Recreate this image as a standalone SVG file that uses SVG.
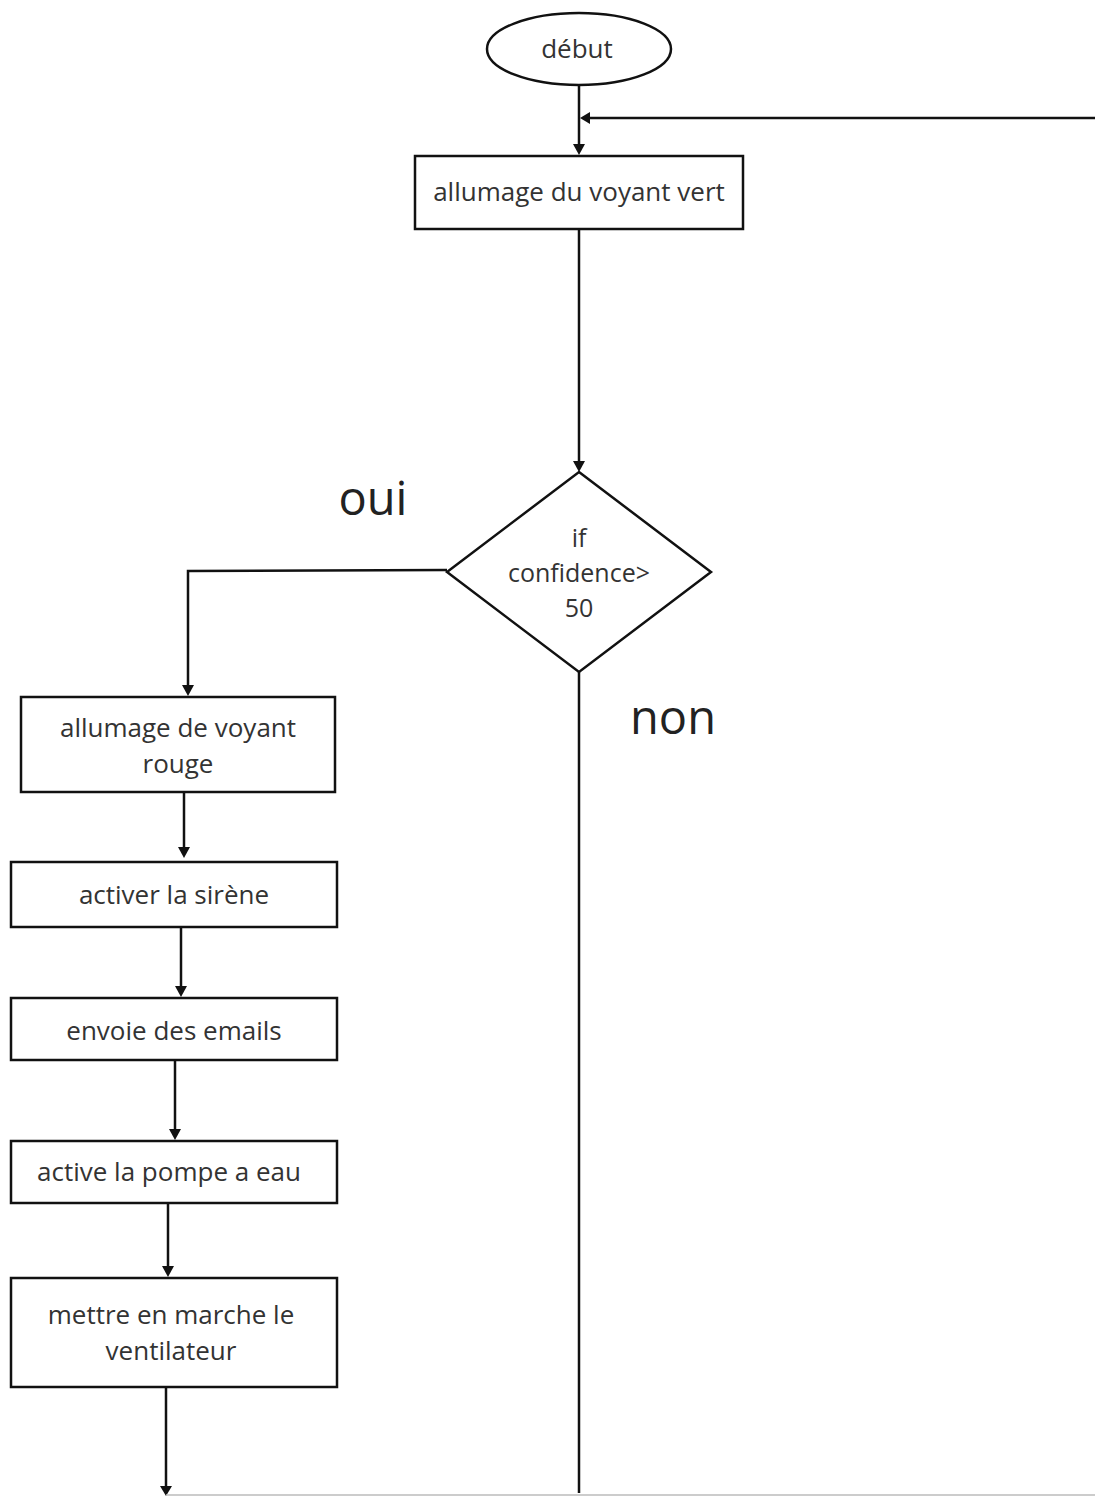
<svg xmlns="http://www.w3.org/2000/svg" width="1095" height="1496" viewBox="0 0 1095 1496">
<defs>
<style>
.shape{fill:#fff;stroke:#111;stroke-width:2.5}
.t{font-family:"Open Sans","Liberation Sans",sans-serif;font-size:26px;fill:#333;text-anchor:middle;dominant-baseline:central}
.d{font-size:25px}
.big{font-family:"Open Sans","Liberation Sans",sans-serif;font-size:47px;fill:#222;text-anchor:middle;dominant-baseline:central}
.c{fill:none;stroke:#111;stroke-width:2.5}
.h{fill:#111}
</style>
</defs>
<rect width="1095" height="1496" fill="#fff"/>
<g id="connectors">
<path class="c" d="M579,86 V144"/>
<path class="h" d="M573,144 L585,144 L579,155 z"/>
<path class="c" d="M1095,118 H590"/>
<path class="h" d="M590,112 L590,124 L580,118 z"/>
<path class="c" d="M579,229 V461"/>
<path class="h" d="M573,461 L585,461 L579,472 z"/>
<path class="c" d="M447,570 L188,571 V685"/>
<path class="h" d="M182,685 L194,685 L188,696 z"/>
<path class="c" d="M184,792 V847"/>
<path class="h" d="M178,847 L190,847 L184,858 z"/>
<path class="c" d="M181,927 V986"/>
<path class="h" d="M175,986 L187,986 L181,997 z"/>
<path class="c" d="M175,1060 V1129"/>
<path class="h" d="M169,1129 L181,1129 L175,1140 z"/>
<path class="c" d="M168,1203 V1266"/>
<path class="h" d="M162,1266 L174,1266 L168,1277 z"/>
<path class="c" d="M166,1387 V1486"/>
<path class="h" d="M160,1486 L172,1486 L166,1496 z"/>
<path class="c" d="M579,672 V1493"/>
<path d="M166,1495 H1095" fill="none" stroke="#bbb" stroke-width="1.5"/>
</g>
<g id="n-debut">
<ellipse class="shape" cx="579" cy="49" rx="92" ry="36"/>
<text class="t" x="577" y="48">début</text>
</g>
<g id="n-vert">
<rect class="shape" x="415" y="156" width="328" height="73"/>
<text class="t" x="579" y="191">allumage du voyant vert</text>
</g>
<g id="n-if">
<polygon class="shape" points="579,472 711,572 579,672 447,572"/>
<text class="t d" x="579" y="537">if</text>
<text class="t d" x="579" y="572">confidence&gt;</text>
<text class="t d" x="579" y="607">50</text>
</g>
<text class="big" x="373" y="497">oui</text>
<text class="big" x="673" y="716">non</text>
<g id="n-rouge">
<rect class="shape" x="21" y="697" width="314" height="95"/>
<text class="t" x="178" y="727">allumage de voyant</text>
<text class="t" x="178" y="763">rouge</text>
</g>
<g id="n-sirene">
<rect class="shape" x="11" y="862" width="326" height="65"/>
<text class="t" x="174" y="894">activer la sirène</text>
</g>
<g id="n-emails">
<rect class="shape" x="11" y="998" width="326" height="62"/>
<text class="t" x="174" y="1030">envoie des emails</text>
</g>
<g id="n-pompe">
<rect class="shape" x="11" y="1141" width="326" height="62"/>
<text class="t" x="169" y="1171">active la pompe a eau</text>
</g>
<g id="n-ventil">
<rect class="shape" x="11" y="1278" width="326" height="109"/>
<text class="t" x="171" y="1314">mettre en marche le</text>
<text class="t" x="171" y="1350">ventilateur</text>
</g>
</svg>
